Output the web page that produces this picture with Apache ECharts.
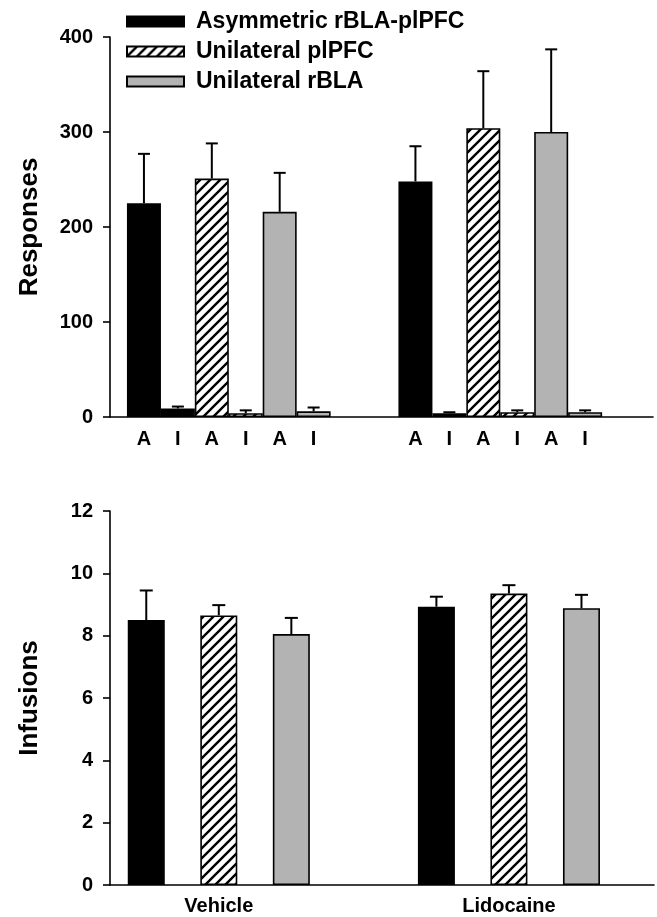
<!DOCTYPE html>
<html>
<head>
<meta charset="utf-8">
<script src="https://cdn.jsdelivr.net/npm/echarts@6/dist/echarts.min.js"></script>
<style>
html,body{margin:0;padding:0;background:#fff;}
#chart{width:657px;height:917px;}
</style>
</head>
<body>
<div id="chart"></div>
<script>
// ---- Data ----
const seriesNames = ['Asymmetric rBLA-plPFC', 'Unilateral plPFC', 'Unilateral rBLA'];
const groups = ['Vehicle', 'Lidocaine'];
// Responses (top panel): A = active lever, I = inactive lever
const respVehicleA = [225, 251, 216];
const respVehicleAErr = [52, 37, 41];
const respVehicleI = [9, 4, 6];
const respVehicleIErr = [2, 3, 4];
const respLidoA = [248, 304, 300];
const respLidoAErr = [37, 60, 87];
const respLidoI = [4, 5, 5];
const respLidoIErr = [1, 2, 2];
const leverLabels = ['A', 'I'];
// Infusions (bottom panel)
const infVehicle = [8.5, 8.65, 8.05];
const infVehicleErr = [0.95, 0.33, 0.52];
const infLido = [8.93, 9.35, 8.88];
const infLidoErr = [0.32, 0.27, 0.43];
const respTicks = [0, 100, 200, 300, 400];
const infTicks = [0, 2, 4, 6, 8, 10, 12];

// ---- Hatch pattern ----
function hatch() {
  const c = document.createElement('canvas');
  c.width = 10; c.height = 10;
  const g = c.getContext('2d');
  g.fillStyle = '#fff'; g.fillRect(0, 0, 10, 10);
  g.strokeStyle = '#000'; g.lineWidth = 2.4;
  g.beginPath();
  g.moveTo(-5, 5); g.lineTo(5, -5);
  g.moveTo(0, 10); g.lineTo(10, 0);
  g.moveTo(5, 15); g.lineTo(15, 5);
  g.stroke();
  return { image: c, repeat: 'repeat' };
}
const fills = ['#000000', hatch(), '#b3b3b3'];

// ---- Category layout ----
const topCats = new Array(17).fill('');
const topStart = [1, 9];
const bottomCats = new Array(16).fill('');
const bottomIdx = [[1, 3, 5], [9, 11, 13]];
groups.forEach((g, gi) => {
  for (let s = 0; s < 3; s++) {
    topCats[topStart[gi] + 2 * s] = leverLabels[0];
    topCats[topStart[gi] + 2 * s + 1] = leverLabels[1];
  }
  bottomCats[bottomIdx[gi][1]] = g;
});

const respA = [respVehicleA, respLidoA], respAE = [respVehicleAErr, respLidoAErr];
const respI = [respVehicleI, respLidoI], respIE = [respVehicleIErr, respLidoIErr];
const infV = [infVehicle, infLido], infE = [infVehicleErr, infLidoErr];

const series = [];
const topErr = [], botErr = [];
seriesNames.forEach((name, s) => {
  const topData = new Array(17).fill('-');
  const botData = new Array(16).fill('-');
  for (let gi = 0; gi < 2; gi++) {
    const ia = topStart[gi] + 2 * s, ii = ia + 1;
    topData[ia] = respA[gi][s];
    topData[ii] = respI[gi][s];
    topErr.push([ia, respA[gi][s], respAE[gi][s]]);
    topErr.push([ii, respI[gi][s], respIE[gi][s]]);
    const ib = bottomIdx[gi][s];
    botData[ib] = infV[gi][s];
    botErr.push([ib, infV[gi][s], infE[gi][s]]);
  }
  const style = { color: fills[s], borderColor: '#000', borderWidth: 1.6 };
  series.push({ name, type: 'bar', xAxisIndex: 0, yAxisIndex: 0, data: topData,
    barWidth: 34, barGap: '-100%', itemStyle: style, z: 2 });
  series.push({ name, type: 'bar', xAxisIndex: 1, yAxisIndex: 1, data: botData,
    barWidth: 37, barGap: '-100%', itemStyle: style, z: 2 });
});

function errRender(capHalf) {
  return function (params, api) {
    const x = api.value(0), v = api.value(1), e = api.value(2);
    const p0 = api.coord([x, v]);
    const p1 = api.coord([x, v + e]);
    const st = { stroke: '#000', lineWidth: 2 };
    return { type: 'group', children: [
      { type: 'line', shape: { x1: p0[0], y1: p0[1], x2: p1[0], y2: p1[1] }, style: st },
      { type: 'line', shape: { x1: p1[0] - capHalf, y1: p1[1], x2: p1[0] + capHalf, y2: p1[1] }, style: st }
    ]};
  };
}
series.push({ type: 'custom', xAxisIndex: 0, yAxisIndex: 0, data: topErr, renderItem: errRender(6), z: 5, silent: true });
series.push({ type: 'custom', xAxisIndex: 1, yAxisIndex: 1, data: botErr, renderItem: errRender(6.5), z: 5, silent: true });

const font = 'Liberation Sans, Arial, sans-serif';
const axisLine = { show: true, lineStyle: { color: '#000', width: 1.6 } };
function yAxis(idx, ticks, name, nameGap) {
  return {
    type: 'value', gridIndex: idx, min: ticks[0], max: ticks[ticks.length - 1],
    interval: ticks[1] - ticks[0],
    name, nameLocation: 'middle', nameGap, nameRotate: 90,
    nameTextStyle: { fontFamily: font, fontWeight: 'bold', fontSize: 26, color: '#000' },
    axisLine, axisTick: { show: true, length: 7, lineStyle: { color: '#000', width: 1.6 } },
    splitLine: { show: false },
    axisLabel: { fontFamily: font, fontWeight: 'bold', fontSize: 20, color: '#000', margin: 17 }
  };
}
function xAxis(idx, cats, margin) {
  return {
    type: 'category', gridIndex: idx, data: cats, boundaryGap: false,
    axisLine, axisTick: { show: false }, splitLine: { show: false },
    axisLabel: { interval: 0, fontFamily: font, fontWeight: 'bold', fontSize: 20, color: '#000', margin }
  };
}

const chart = echarts.init(document.getElementById('chart'), null, { renderer: 'canvas' });
chart.setOption({
  animation: false,
  backgroundColor: '#fff',
  legend: {
    data: seriesNames, orient: 'vertical', left: 126, top: 10, itemGap: 7, padding: 0,
    itemWidth: 57, itemHeight: 10, icon: 'rect',
    textStyle: { fontFamily: font, fontWeight: 'bold', fontSize: 23, color: '#000', padding: [0, 0, 0, 7] },
    selectedMode: false
  },
  grid: [
    { left: 110, right: 4, top: 37, bottom: 500, containLabel: false },
    { left: 110, right: 3, top: 511, bottom: 32, containLabel: false }
  ],
  xAxis: [xAxis(0, topCats, 12), xAxis(1, bottomCats, 11)],
  yAxis: [yAxis(0, respTicks, 'Responses', 67), yAxis(1, infTicks, 'Infusions', 67)],
  series
});
</script>
</body>
</html>
